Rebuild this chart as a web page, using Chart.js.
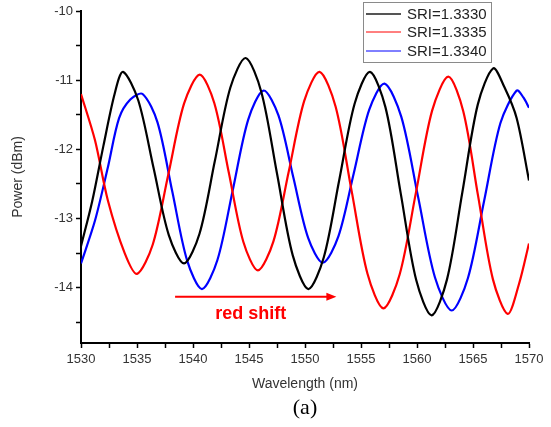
<!DOCTYPE html>
<html lang="en">
  <head>
    <meta charset="UTF-8" />
    <title>SRI spectra</title>
    <script src="https://cdn.jsdelivr.net/npm/chart.js@4.4.1/dist/chart.umd.min.js"></script>
    <style>
      html, body { margin: 0; padding: 0; background: #fff; }
      #wrap { width: 551px; height: 427px; }
    </style>
  </head>
  <body>
    <div id="wrap"><canvas id="chart" width="551" height="427"></canvas></div>
    <script>
      // values (wavelength nm, power dBm)
      const blackWl = [1530, 1531, 1532, 1533, 1533.75, 1535.11, 1536.48, 1537.84, 1539.2, 1540.58, 1541.95, 1543.33, 1544.7, 1546.1, 1547.5, 1548.9, 1550.3, 1551.68, 1553.05, 1554.43, 1555.8, 1557.18, 1558.55, 1559.93, 1561.3, 1562.68, 1564.05, 1565.43, 1566.8, 1567.8, 1568.9, 1570];
      const blackPow = [-13.4, -12.75, -11.95, -11.2, -10.88, -11.29, -12.27, -13.24, -13.65, -13.22, -12.17, -11.11, -10.68, -11.17, -12.35, -13.53, -14.02, -13.56, -12.45, -11.34, -10.88, -11.39, -12.64, -13.89, -14.4, -13.88, -12.62, -11.35, -10.83, -11.1, -11.55, -12.45];

      const redWl = [1530, 1531.25, 1532.4, 1533.9, 1535, 1536.4, 1537.8, 1539.2, 1540.6, 1541.9, 1543.2, 1544.5, 1545.8, 1547.18, 1548.55, 1549.93, 1551.3, 1552.73, 1554.15, 1555.58, 1557, 1558.45, 1559.9, 1561.35, 1562.8, 1564.13, 1565.45, 1566.78, 1568.1, 1569.1, 1570];
      const redPow = [-11.2, -11.87, -12.74, -13.5, -13.8, -13.38, -12.36, -11.34, -10.92, -11.33, -12.34, -13.34, -13.75, -13.33, -12.32, -11.3, -10.88, -11.38, -12.59, -13.8, -14.3, -13.81, -12.63, -11.44, -10.95, -11.45, -12.67, -13.88, -14.38, -13.95, -13.36];

      const blueWl = [1530, 1531.25, 1532.4, 1533.4, 1534.4, 1535.5, 1536.83, 1538.15, 1539.48, 1540.8, 1542.18, 1543.55, 1544.93, 1546.3, 1547.63, 1548.95, 1550.28, 1551.6, 1552.98, 1554.35, 1555.73, 1557.1, 1558.6, 1560.1, 1561.6, 1563.1, 1564.55, 1566, 1567.45, 1568.9, 1569.5, 1570];
      const bluePow = [-13.65, -13.03, -12.26, -11.55, -11.28, -11.2, -11.61, -12.61, -13.61, -14.02, -13.6, -12.59, -11.57, -11.15, -11.51, -12.4, -13.28, -13.64, -13.26, -12.35, -11.43, -11.05, -11.53, -12.69, -13.85, -14.33, -13.86, -12.74, -11.62, -11.15, -11.25, -11.4];

      const seriesLabels = ["SRI=1.3330", "SRI=1.3335", "SRI=1.3340"];
      const shiftArrow = [1538.4, 1552.8]; // nm, arrow start/end
      const shiftArrowPow = -14.13;

      const pts = (xs, ys) => xs.map((x, i) => ({ x: x, y: ys[i] }));
      const font = "'Liberation Sans', Arial, sans-serif";

      // legend box inside the plot
      const boxLegend = {
        id: "boxLegend",
        afterDraw(chart) {
          const ctx = chart.ctx;
          ctx.save();
          ctx.fillStyle = "#fff";
          ctx.fillRect(363, 2, 128, 60);
          ctx.strokeStyle = "#8a8a8a";
          ctx.lineWidth = 1;
          ctx.strokeRect(363.5, 2.5, 128, 60);
          const rows = [14, 32, 51];
          const widths = [2.2, 1, 1];
          chart.data.datasets.forEach((ds, i) => {
            ctx.strokeStyle = i === 0 ? "#555" : ds.borderColor;
            ctx.lineWidth = widths[i];
            ctx.beginPath();
            ctx.moveTo(366, rows[i]);
            ctx.lineTo(401, rows[i]);
            ctx.stroke();
            ctx.fillStyle = "#222";
            ctx.font = "15px " + font;
            ctx.textBaseline = "middle";
            ctx.fillText(ds.label, 407, rows[i] + 1);
          });
          ctx.restore();
        },
      };

      // "red shift" arrow and panel label
      const notes = {
        id: "notes",
        afterDraw(chart) {
          const ctx = chart.ctx;
          const xs = chart.scales.x;
          const ys = chart.scales.y;
          const x0 = xs.getPixelForValue(shiftArrow[0]);
          const x1 = xs.getPixelForValue(shiftArrow[1]);
          const y = ys.getPixelForValue(shiftArrowPow);
          ctx.save();
          ctx.strokeStyle = "#ff0000";
          ctx.fillStyle = "#ff0000";
          ctx.lineWidth = 2;
          ctx.beginPath();
          ctx.moveTo(x0, y);
          ctx.lineTo(x1 - 6, y);
          ctx.stroke();
          ctx.beginPath();
          ctx.moveTo(x1, y);
          ctx.lineTo(x1 - 10, y - 4);
          ctx.lineTo(x1 - 10, y + 4);
          ctx.closePath();
          ctx.fill();
          ctx.font = "bold 18px " + font;
          ctx.textAlign = "center";
          ctx.textBaseline = "middle";
          ctx.fillText("red shift", (x0 + x1) / 2 - 5, y + 17);
          ctx.fillStyle = "#000";
          ctx.font = "22px 'Liberation Serif', 'Times New Roman', serif";
          ctx.fillText("(a)", xs.getPixelForValue(1550), 408);
          ctx.restore();
        },
      };

      const halfStep = (axis) => {
        axis.ticks = axis.ticks.filter(
          (t) => Math.abs(t.value * 2 - Math.round(t.value * 2)) < 1e-6
        );
      };
      const quarterStep = (axis) => {
        axis.ticks = axis.ticks.filter(
          (t) => Math.abs(t.value / 2.5 - Math.round(t.value / 2.5)) < 1e-6
        );
      };

      new Chart(document.getElementById("chart").getContext("2d"), {
        type: "line",
        data: {
          datasets: [
            {
              label: seriesLabels[0],
              data: pts(blackWl, blackPow),
              borderColor: "#000000",
            },
            {
              label: seriesLabels[1],
              data: pts(redWl, redPow),
              borderColor: "#ff0000",
            },
            {
              label: seriesLabels[2],
              data: pts(blueWl, bluePow),
              borderColor: "#0000ff",
            },
          ],
        },
        options: {
          responsive: false,
          animation: false,
          devicePixelRatio: 1,
          layout: { padding: { left: 0, top: 11, right: 22, bottom: 32 } },
          elements: {
            line: { borderWidth: 2.2, tension: 0.3, fill: false },
            point: { radius: 0 },
          },
          plugins: {
            legend: { display: false },
            tooltip: { enabled: false },
          },
          scales: {
            x: {
              type: "linear",
              min: 1530,
              max: 1570,
              afterBuildTicks: quarterStep,
              afterFit: (s) => { s.height = 52; },
              border: { display: true, color: "#000", width: 2 },
              grid: { drawOnChartArea: false, tickLength: 5, color: "#000", tickWidth: 1.5 },
              ticks: {
                stepSize: 2.5,
                autoSkip: false,
                maxRotation: 0,
                padding: 4,
                color: "#333",
                font: { family: font, size: 13 },
                callback: (v) => (v % 5 === 0 ? v : ""),
              },
              title: {
                display: true,
                text: "Wavelength (nm)",
                color: "#333",
                font: { family: font, size: 14 },
                padding: { top: 0, bottom: 2 },
              },
            },
            y: {
              min: -14.8,
              max: -10,
              afterBuildTicks: halfStep,
              afterFit: (s) => { s.width = 81; },
              border: { display: true, color: "#000", width: 2 },
              grid: { drawOnChartArea: false, tickLength: 5, color: "#000", tickWidth: 1.5 },
              ticks: {
                stepSize: 0.5,
                autoSkip: false,
                padding: 3,
                color: "#333",
                font: { family: font, size: 13 },
                callback: (v) => (Number.isInteger(v) ? v : ""),
              },
              title: {
                display: true,
                text: "Power (dBm)",
                color: "#333",
                font: { family: font, size: 14 },
                padding: { top: 10, bottom: 0 },
              },
            },
          },
        },
        plugins: [boxLegend, notes],
      });
    </script>
  </body>
</html>
